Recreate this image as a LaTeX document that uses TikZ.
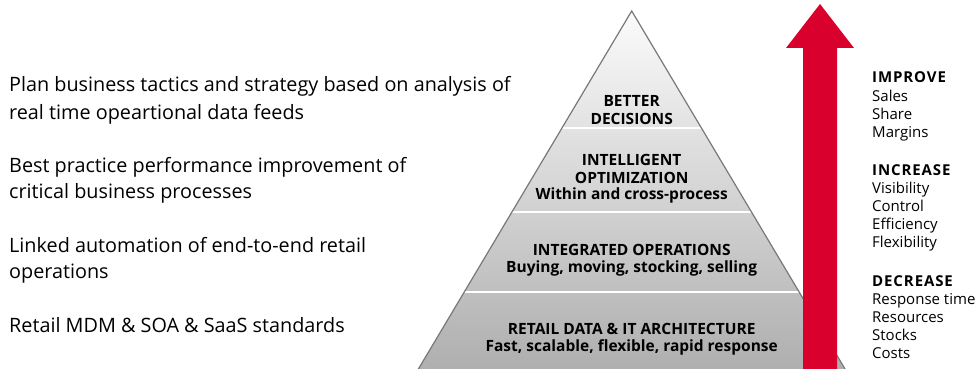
\documentclass[tikz,border=0pt]{standalone}
\usepackage{fontspec}
\setmainfont{Open Sans}
\usepackage{xcolor}

\definecolor{arrowred}{RGB}{218,0,46}
\definecolor{edgegray}{RGB}{120,120,120}
\newcommand{\headword}[1]{{\bfseries\addfontfeature{LetterSpace=6}#1}}

\begin{document}
\begin{tikzpicture}[x=1pt,y=-1pt]
  \tikzset{lefttext/.style = {anchor=base west,inner sep=0pt,font=\fontsize{19.8}{27}\selectfont}}
  \tikzset{tiertext/.style = {anchor=base,inner sep=0pt,font=\bfseries\fontsize{15.5}{18}\selectfont}}
  \tikzset{sidetext/.style = {anchor=base west,inner sep=0pt,font=\fontsize{15}{18}\selectfont}}
  \tikzset{divider/.style = {white,line width=2pt}}

	\useasboundingbox (0,0) rectangle (979,369);

	% pyramid body and band lines
	\path[top color=gray!3,bottom color=gray!64] (631.7,11) -- (414.8,375) -- (848.6,375) -- cycle;
    \foreach \y/\l/\r in {128/562.0/701.4, 212/511.9/751.5, 292/464.2/799.2}
    \draw[divider] (\l,\y) -- (\r,\y);
	\draw[edgegray,line width=1.2pt] (414.8,375) -- (631.7,11) -- (848.6,375);

	% big red arrow
	\fill[arrowred] (803,375) -- (803,48) -- (786,48) -- (820,4) -- (854,48) -- (837,48) -- (837,375) -- cycle;

    \foreach \y/\t [count=\i] in {106/BETTER, 124/DECISIONS, 165.7/INTELLIGENT, 183.7/OPTIMIZATION, 199.3/Within and cross-process, 255/INTEGRATED OPERATIONS, 272.7/{Buying, moving, stocking, selling}, 334/RETAIL DATA \& IT ARCHITECTURE, 351.7/{Fast, scalable, flexible, rapid response}}
    \node[tiertext] (tier\i) at (631.7,\y) {\t};

    \foreach \y/\t [count=\i] in {92/Plan business tactics and strategy based on analysis of, 119/real time opeartional data feeds, 172/Best practice performance improvement of, 198/critical business processes, 252/Linked automation of end-to-end retail, 278/operations, 332/Retail MDM \& SOA \& SaaS standards}
    \node[lefttext] (plan\i) at (9,\y) {\t};

    \foreach \y/\t [count=\i] in {82/\headword{IMPROVE}, 101/Sales, 119/Share, 137/Margins, 175/\headword{INCREASE}, 193/Visibility, 211/Control, 229/Efficiency, 247/Flexibility, 286/\headword{DECREASE}, 304/Response time, 322/Resources, 340/Stocks, 358/Costs}
    \node[sidetext] (gain\i) at (872,\y) {\t};

%    \draw[help lines] (0,0) grid (979,369);
\end{tikzpicture}
\end{document}
